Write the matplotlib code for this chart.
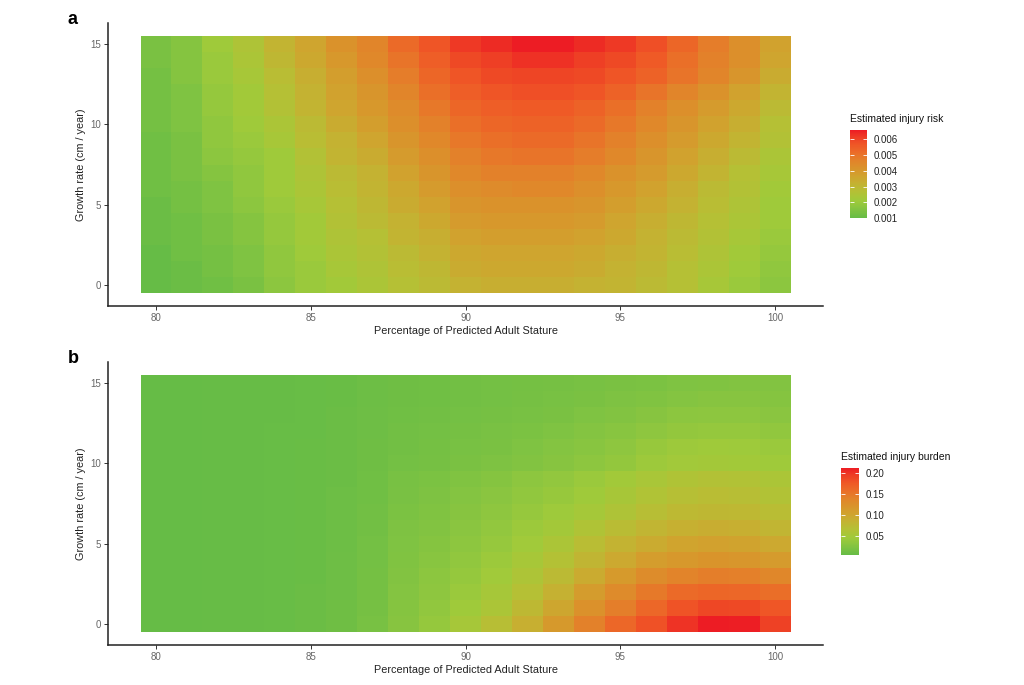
import numpy as np
import matplotlib
matplotlib.use("Agg")
import matplotlib.pyplot as plt
from matplotlib.colors import LinearSegmentedColormap, Normalize
from matplotlib.ticker import FormatStrFormatter

plt.rcParams['font.family'] = ['Liberation Sans', 'DejaVu Sans']

# categories
stature = [80, 81, 82, 83, 84, 85, 86, 87, 88, 89, 90,
           91, 92, 93, 94, 95, 96, 97, 98, 99, 100]
growth = [0, 1, 2, 3, 4, 5, 6, 7, 8, 9, 10, 11, 12, 13, 14, 15]

# panel a: estimated injury risk (x 1e-4), rows = growth 0..15, cols = stature 80..100
risk_e4 = [
    [10, 11, 12, 14, 17, 20, 22, 24, 27, 29, 32, 33, 33, 33, 32, 31, 29, 27, 23, 20, 17],
    [10, 11, 13, 15, 18, 20, 23, 25, 28, 30, 34, 35, 35, 35, 34, 32, 30, 27, 24, 21, 18],
    [10, 12, 13, 15, 18, 21, 24, 26, 29, 32, 35, 36, 36, 36, 35, 33, 31, 28, 25, 22, 19],
    [11, 12, 14, 16, 19, 22, 25, 27, 31, 33, 37, 38, 38, 38, 37, 35, 32, 29, 26, 23, 20],
    [11, 12, 14, 16, 19, 22, 26, 29, 32, 35, 39, 40, 40, 40, 39, 36, 33, 30, 27, 24, 21],
    [11, 13, 15, 17, 20, 23, 27, 30, 34, 37, 41, 42, 42, 42, 41, 38, 35, 32, 28, 25, 21],
    [12, 13, 15, 18, 21, 24, 28, 31, 35, 39, 43, 44, 45, 45, 43, 40, 37, 33, 29, 26, 22],
    [12, 14, 16, 18, 21, 25, 29, 32, 37, 41, 45, 47, 47, 47, 45, 42, 39, 35, 31, 27, 23],
    [12, 14, 17, 19, 21, 26, 31, 34, 39, 43, 47, 49, 50, 50, 48, 45, 41, 37, 33, 29, 24],
    [12, 14, 18, 20, 23, 28, 32, 36, 41, 45, 49, 51, 52, 52, 50, 47, 43, 39, 35, 31, 26],
    [13, 15, 18, 21, 24, 29, 34, 38, 43, 47, 51, 53, 54, 54, 52, 49, 45, 41, 37, 33, 27],
    [13, 15, 19, 22, 26, 31, 36, 40, 44, 49, 53, 55, 56, 56, 54, 51, 47, 43, 39, 35, 29],
    [13, 15, 19, 22, 27, 32, 37, 41, 46, 51, 55, 57, 58, 58, 57, 54, 50, 46, 42, 37, 31],
    [13, 16, 20, 23, 28, 33, 38, 43, 48, 53, 57, 59, 60, 60, 59, 57, 54, 50, 46, 41, 34],
    [14, 16, 20, 24, 30, 35, 40, 45, 50, 55, 59, 61, 63, 63, 61, 59, 56, 51, 47, 43, 36],
    [14, 16, 21, 25, 31, 36, 42, 46, 52, 57, 62, 64, 66, 66, 64, 62, 58, 53, 48, 43, 37],
]

# panel b: estimated injury burden (x 1e-3)
burden_e3 = [
    [6, 6, 7, 7, 8, 10, 13, 19, 29, 39, 53, 70, 90, 115, 142, 163, 182, 200, 212, 211, 192],
    [6, 6, 7, 7, 8, 10, 13, 18, 28, 36, 47, 58, 78, 100, 125, 145, 163, 180, 188, 187, 178],
    [6, 6, 7, 7, 8, 10, 12, 17, 27, 34, 43, 53, 68, 88, 112, 131, 149, 161, 165, 163, 158],
    [6, 6, 7, 7, 8, 9, 12, 17, 26, 32, 39, 48, 60, 76, 95, 114, 130, 140, 145, 143, 136],
    [6, 6, 7, 7, 8, 9, 12, 16, 25, 30, 36, 44, 54, 66, 82, 97, 110, 117, 121, 119, 113],
    [6, 6, 7, 7, 8, 9, 11, 16, 24, 28, 33, 40, 48, 58, 72, 85, 95, 103, 106, 104, 97],
    [6, 6, 7, 7, 8, 9, 11, 15, 23, 26, 31, 37, 44, 51, 62, 73, 83, 89, 92, 90, 83],
    [6, 6, 7, 7, 8, 9, 11, 15, 22, 25, 29, 34, 40, 46, 52, 61, 70, 77, 80, 79, 72],
    [6, 6, 7, 7, 8, 9, 11, 14, 20, 23, 27, 31, 36, 41, 47, 55, 63, 69, 72, 71, 64],
    [6, 6, 7, 7, 8, 9, 10, 14, 19, 22, 25, 28, 33, 37, 43, 50, 56, 62, 65, 64, 58],
    [6, 6, 7, 7, 8, 9, 10, 13, 16, 18, 21, 23, 26, 29, 33, 38, 45, 49, 51, 50, 47],
    [6, 6, 7, 7, 8, 9, 10, 13, 15, 17, 19, 21, 24, 27, 30, 34, 41, 45, 47, 46, 43],
    [6, 6, 7, 7, 8, 8, 10, 12, 15, 16, 18, 20, 22, 24, 27, 30, 34, 38, 39, 39, 36],
    [6, 6, 7, 7, 7, 8, 10, 12, 14, 15, 16, 18, 19, 21, 24, 26, 29, 32, 33, 33, 31],
    [6, 6, 7, 7, 7, 8, 9, 11, 13, 14, 15, 16, 18, 19, 21, 23, 25, 27, 29, 29, 28],
    [6, 6, 7, 7, 7, 8, 9, 11, 13, 14, 15, 16, 17, 18, 19, 21, 22, 24, 25, 26, 26],
]

risk = np.array(risk_e4) * 1e-4
burden = np.array(burden_e3) * 1e-3

# green -> yellow -> red gradient
cmap = LinearSegmentedColormap.from_list("gyr", [
    (0.00, "#66BC46"), (0.08, "#7DC242"), (0.13, "#8DC63F"),
    (0.20, "#A0CA3A"), (0.30, "#B5C035"), (0.39, "#C4B232"),
    (0.48, "#D1A22E"), (0.57, "#DA922B"), (0.66, "#E3822A"),
    (0.745, "#EB6C28"), (0.83, "#EF5826"), (0.92, "#EE3D25"),
    (1.00, "#ED1C24"),
])

W, H = 1024, 685
fig = plt.figure(figsize=(W / 100, H / 100), dpi=100)


def panel(top_px, Z, letter, title, ticks, fmt, cb_box, title_xy):
    ax = fig.add_axes([108 / W, 1 - (top_px + 283) / H, 715 / W, 283 / H])
    norm = Normalize(vmin=Z.min(), vmax=Z.max())
    mesh = ax.pcolormesh(stature, growth, Z, cmap=cmap, norm=norm,
                         shading='nearest', edgecolors='none', antialiased=False)
    ax.set_xlim(78.45, 101.55)
    ax.set_ylim(-1.3, 16.3)
    ax.set_xticks([80, 85, 90, 95, 100])
    ax.set_yticks([0, 5, 10, 15])
    for s in ['top', 'right']:
        ax.spines[s].set_visible(False)
    for s in ['left', 'bottom']:
        ax.spines[s].set_linewidth(1.1)
        ax.spines[s].set_color('#222222')
    ax.tick_params(length=3, width=0.7, color='#333333', labelcolor='#666666',
                   labelsize=7, pad=2)
    ax.set_xlabel("Percentage of Predicted Adult Stature", fontsize=7.8,
                  labelpad=2, color='#222222')
    ax.set_ylabel("Growth rate (cm / year)", fontsize=7.8, labelpad=3,
                  color='#222222')
    fig.text(68 / W, 1 - (top_px - 4) / H, letter, fontsize=13,
             fontweight='bold', ha='left', va='center')

    cax = fig.add_axes([cb_box[0] / W, 1 - cb_box[3] / H,
                        (cb_box[2] - cb_box[0]) / W,
                        (cb_box[3] - cb_box[1]) / H])
    cb = fig.colorbar(mesh, cax=cax, ticks=ticks)
    cb.outline.set_visible(False)
    cb.ax.yaxis.set_major_formatter(FormatStrFormatter(fmt))
    cb.ax.tick_params(direction='in', length=3, width=0.6, color='white',
                      left=True, right=True, labelsize=7,
                      labelcolor='#222222', pad=5)
    fig.text(title_xy[0] / W, 1 - title_xy[1] / H, title, fontsize=7.5,
             ha='left', va='center', color='#111111')


panel(23, risk, "a", "Estimated injury risk",
      [0.001, 0.002, 0.003, 0.004, 0.005, 0.006], '%.3f',
      (850, 130, 867, 218), (850, 119))
panel(362, burden, "b", "Estimated injury burden",
      [0.05, 0.10, 0.15, 0.20], '%.2f',
      (841, 468, 859, 555), (841, 457))

fig.savefig("out.png", dpi=100)
